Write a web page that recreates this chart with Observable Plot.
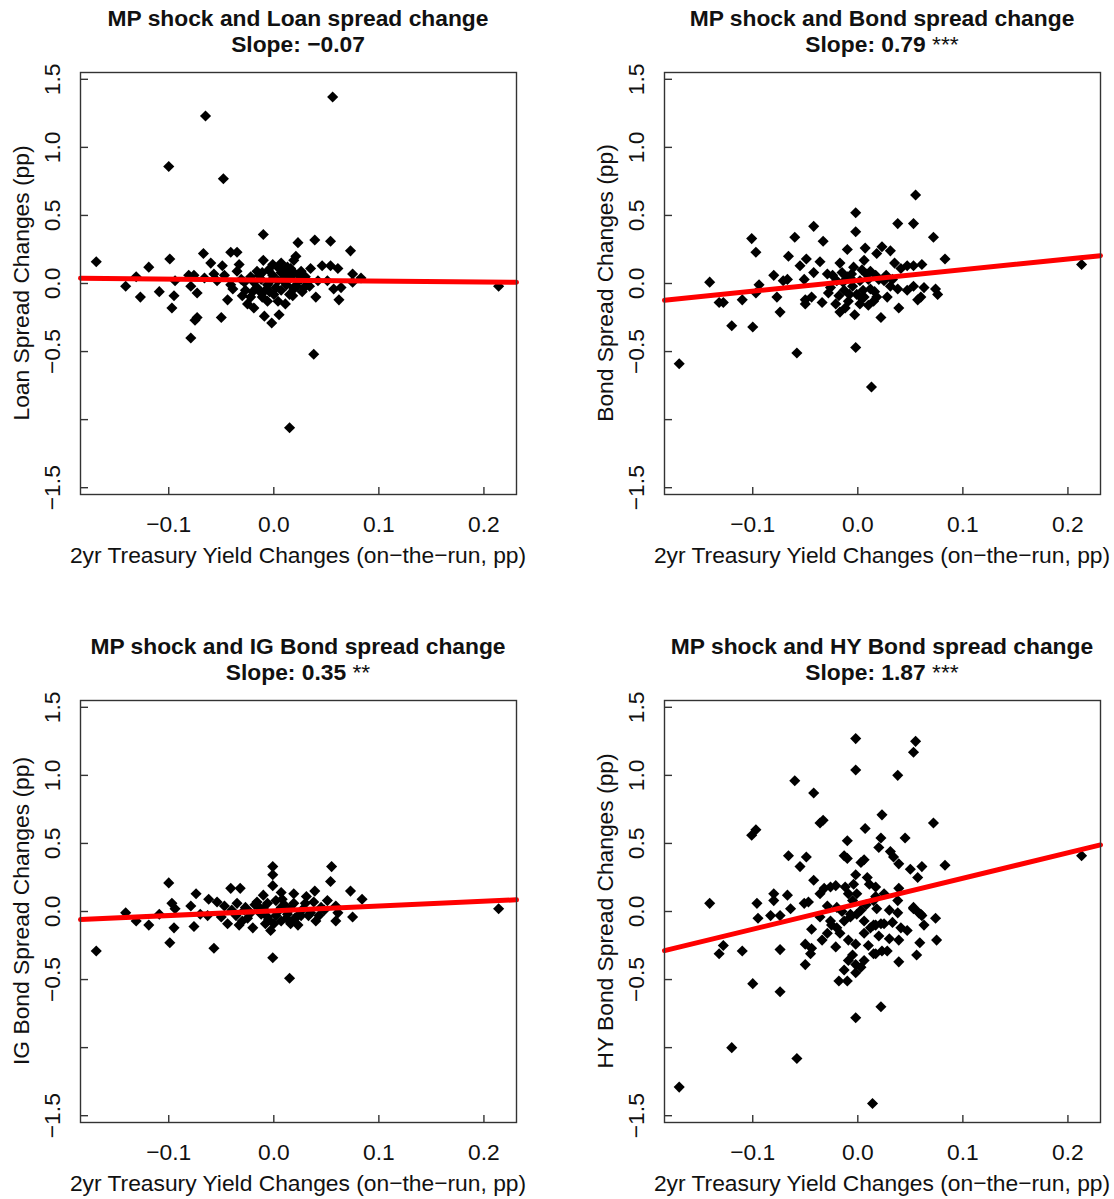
<!DOCTYPE html>
<html><head><meta charset="utf-8">
<script src="https://cdn.jsdelivr.net/npm/d3@7"></script>
<script src="https://cdn.jsdelivr.net/npm/@observablehq/plot@0.6"></script>
<style>
body{margin:0;background:#fff;}
#root{position:relative;width:1114px;height:1199px;overflow:hidden;font-family:"Liberation Sans",Arial,sans-serif;}
#root svg{position:absolute;}
</style></head><body><div id="root"></div>
<script>
// ---- axes / labels ----
const xTicks = [-0.1, 0, 0.1, 0.2];
const yTicks = [-1.5, -1, -0.5, 0, 0.5, 1, 1.5];
const yTickLabels = [-1.5, -0.5, 0, 0.5, 1, 1.5];
const xDomain = [-0.184, 0.231];
const yDomain = [-1.55, 1.55];
const titles = ["MP shock and Loan spread change", "MP shock and Bond spread change",
  "MP shock and IG Bond spread change", "MP shock and HY Bond spread change"];
const slopeText = ["\u22120.07", "0.79", "0.35", "1.87"];
const stars = ["", "***", "**", "***"];
const slopeValues = [-0.07, 0.79, 0.35, 1.87];
const intercepts = [0.025, 0.022, 0.005, 0.057];
const yLabels = ["Loan Spread Changes (pp)", "Bond Spread Changes (pp)",
  "IG Bond Spread Changes (pp)", "HY Bond Spread Changes (pp)"];
const xLabel = "2yr Treasury Yield Changes (on\u2212the\u2212run, pp)";

// ---- data ----
const loanX = [-0.169,-0.141,-0.131,-0.127,-0.119,-0.109,-0.099,-0.095,-0.094,-0.097,-0.081,-0.079,-0.076,-0.073,-0.073,-0.075,-0.079,-0.067,-0.060,-0.066,-0.049,-0.050,-0.044,-0.041,-0.035,-0.033,-0.035,-0.057,-0.054,-0.047,-0.041,-0.039,-0.031,-0.027,-0.025,-0.019,-0.022,-0.010,-0.010,-0.011,-0.016,-0.001,0.007,0.013,0.019,0.023,0.021,-0.009,-0.002,0.005,0.011,-0.006,0.000,0.007,0.015,0.019,-0.006,0.004,-0.016,-0.012,-0.019,0.011,0.016,-0.001,0.007,-0.008,0.019,-0.011,0.004,0.039,0.054,0.073,0.035,0.046,0.054,0.061,0.026,0.016,0.075,0.083,0.023,0.032,0.042,0.051,0.019,0.029,0.018,0.040,0.057,0.064,0.062,0.075,0.214,0.038,0.056,-0.065,-0.100,-0.048,0.015,-0.005,0.010,0.002,-0.014,0.012,0.024,0.027,0.008,-0.020,0.030,-0.003,-0.028,-0.022,-0.004,0.014,0.022,-0.012,0.005,0.026,-0.030,0.034];
const loanY = [0.16,-0.02,0.05,-0.10,0.12,-0.06,0.18,-0.09,0.02,-0.18,0.06,-0.02,0.06,-0.07,-0.25,-0.27,-0.40,0.22,0.15,0.04,0.13,-0.25,-0.12,0.23,0.23,0.14,0.09,0.07,0.02,0.06,-0.01,-0.04,0.03,-0.05,-0.15,-0.18,-0.10,0.36,0.17,0.08,0.09,0.14,0.15,0.12,0.17,0.30,0.20,-0.24,-0.29,-0.23,-0.15,-0.13,-0.08,-0.05,-0.08,-0.03,-0.01,0.02,-0.03,0.03,0.01,0.04,0.04,0.06,0.08,-0.05,0.08,-0.10,-0.13,0.32,0.31,0.24,0.11,0.13,0.13,0.11,0.09,0.11,0.07,0.04,0.02,0.01,0.02,0.02,-0.04,-0.03,-0.09,-0.10,-0.04,-0.03,-0.12,0.01,-0.02,-0.52,1.37,1.23,0.86,0.77,-1.06,0.10,0.09,-0.03,0.06,-0.01,0.06,-0.06,0.03,-0.06,0.05,0.02,0.01,0.05,-0.06,0.08,-0.02,-0.07,0.11,0.03,-0.09,-0.02];

const bondX = [-0.170,-0.141,-0.132,-0.128,-0.120,-0.110,-0.101,-0.097,-0.100,-0.094,-0.097,-0.080,-0.077,-0.074,-0.071,-0.067,-0.066,-0.060,-0.058,-0.055,-0.049,-0.051,-0.050,-0.050,-0.044,-0.042,-0.033,-0.036,-0.042,-0.034,-0.029,-0.026,-0.021,-0.017,-0.017,-0.010,-0.002,-0.002,-0.002,-0.003,0.007,0.006,-0.007,-0.013,-0.001,0.006,-0.009,0.012,0.015,0.022,0.018,0.023,-0.004,-0.020,0.055,0.038,0.053,0.072,0.083,0.031,0.035,0.041,0.047,0.053,0.061,0.017,0.025,0.031,0.038,0.047,0.053,0.063,0.074,0.076,0.057,0.060,0.039,0.028,0.018,0.213,0.013,-0.010,0.002,-0.005,0.010,-0.015,0.005,0.008,-0.008,0.012,-0.024,0.002,-0.012,0.020,-0.028,-0.018,0.004,0.016,0.027,-0.006,0.010,0.033,-0.014,0.004];
const bondY = [-0.59,0.01,-0.14,-0.14,-0.31,-0.12,0.33,0.23,-0.32,-0.01,-0.07,0.06,-0.10,-0.21,0.02,0.03,0.20,0.34,-0.51,0.13,0.18,0.03,-0.12,-0.15,-0.10,0.42,0.31,0.16,0.08,-0.14,0.07,-0.03,-0.15,-0.21,0.15,0.25,0.52,0.38,-0.47,-0.23,0.26,0.17,0.04,-0.05,-0.08,-0.10,-0.13,0.09,-0.13,-0.25,0.22,0.27,0.12,0.02,0.65,0.44,0.44,0.34,0.18,0.24,0.15,0.11,0.13,0.13,0.14,0.06,0.02,-0.02,-0.04,-0.05,-0.02,-0.03,-0.04,-0.08,-0.12,-0.10,-0.18,-0.10,-0.10,0.14,-0.76,0.05,0.02,-0.02,0.03,0.08,-0.05,0.07,-0.08,-0.04,0.06,-0.15,-0.18,0.03,-0.07,-0.09,0.10,-0.06,0.06,0.07,-0.16,0.03,0.01,-0.11];

const igX = [-0.169,-0.141,-0.131,-0.119,-0.109,-0.100,-0.099,-0.095,-0.097,-0.094,-0.079,-0.076,-0.074,-0.057,-0.062,-0.063,-0.054,-0.047,-0.044,-0.041,-0.032,-0.035,-0.033,-0.027,-0.020,-0.016,-0.010,-0.001,-0.001,-0.001,-0.001,0.015,0.007,0.019,-0.006,0.000,-0.003,0.007,0.013,-0.012,-0.022,-0.036,-0.050,-0.070,-0.006,0.007,0.019,0.023,0.016,0.055,0.054,0.073,0.084,0.039,0.031,0.051,0.038,0.059,0.035,0.048,0.061,0.026,0.040,0.059,0.075,0.023,0.214,-0.010,0.004,0.010,-0.015,0.028,-0.005,0.012,-0.025,0.045,0.002,0.030,-0.040,-0.028,-0.018,0.016,0.020,-0.008,0.033,0.008,-0.030,0.043,0.002];
const igY = [-0.29,-0.01,-0.07,-0.10,-0.02,0.21,-0.23,-0.12,0.06,0.02,0.04,-0.11,0.13,-0.27,0.09,-0.03,0.07,0.04,-0.09,0.17,0.17,0.06,-0.10,0.03,-0.12,0.07,0.12,0.33,0.27,0.19,-0.34,-0.49,0.14,0.13,-0.04,-0.09,-0.14,-0.07,-0.02,-0.02,-0.01,-0.03,-0.04,-0.02,0.06,0.03,0.06,-0.03,-0.09,0.33,0.22,0.15,0.09,0.15,0.11,0.08,0.07,0.04,-0.01,0.01,-0.01,-0.03,-0.07,-0.07,-0.04,-0.10,0.02,0.02,0.00,0.05,0.04,0.02,-0.06,-0.05,-0.05,0.03,0.08,0.06,0.01,0.01,0.05,0.02,-0.05,-0.09,-0.03,0.09,-0.07,-0.03,-0.03];

const hyX = [-0.002,-0.002,-0.060,-0.042,-0.033,-0.036,0.007,-0.101,-0.097,-0.010,0.023,0.020,-0.066,-0.049,-0.055,-0.013,-0.010,0.003,0.006,-0.042,-0.002,-0.004,0.009,0.011,-0.032,-0.026,-0.021,-0.036,-0.012,-0.009,-0.001,0.015,-0.141,-0.096,-0.080,-0.080,-0.067,-0.064,-0.051,-0.047,-0.029,-0.020,-0.095,-0.083,-0.074,-0.007,0.003,0.018,0.055,0.053,0.038,0.072,0.045,0.022,0.031,0.034,0.039,0.050,0.061,0.083,0.057,0.039,0.017,0.025,0.038,0.017,0.053,0.060,0.074,0.030,0.213,-0.128,-0.132,-0.110,-0.100,-0.074,-0.074,-0.120,-0.058,-0.170,0.014,-0.044,-0.050,-0.045,-0.050,-0.044,-0.034,-0.029,-0.026,-0.021,-0.020,-0.018,-0.010,-0.013,-0.009,-0.005,-0.002,-0.002,0.003,0.006,0.015,-0.002,0.022,-0.017,-0.009,-0.002,0.006,0.012,0.015,0.022,0.023,-0.013,-0.007,-0.001,0.006,-0.036,0.053,0.058,0.061,0.038,0.063,0.025,0.033,0.041,0.047,0.017,0.020,0.030,0.039,0.059,0.075,0.028,0.017,0.039,0.056,-0.015,0.008,-0.025,0.010,-0.005];
const hyY = [1.27,1.04,0.96,0.87,0.67,0.65,0.61,0.56,0.60,0.52,0.71,0.47,0.41,0.40,0.33,0.41,0.39,0.36,0.38,0.23,0.27,0.20,0.25,0.20,0.17,0.18,0.19,0.13,0.18,0.13,0.13,0.08,0.06,0.06,0.13,0.08,0.12,0.02,0.06,0.07,0.04,0.03,-0.05,-0.03,-0.03,-0.02,0.01,0.02,1.25,1.17,1.00,0.65,0.54,0.54,0.44,0.40,0.35,0.31,0.33,0.34,0.25,0.17,0.18,0.13,0.08,0.11,0.02,-0.02,-0.05,0.01,0.41,-0.25,-0.31,-0.29,-0.53,-0.28,-0.59,-1.00,-1.08,-1.29,-1.41,-0.13,-0.24,-0.31,-0.39,-0.27,-0.21,-0.16,-0.07,-0.26,-0.12,-0.51,-0.51,-0.43,-0.36,-0.32,-0.45,-0.39,-0.41,-0.36,-0.31,-0.78,-0.70,-0.16,-0.21,-0.24,-0.16,-0.12,-0.10,-0.09,-0.29,-0.07,-0.04,-0.02,-0.07,-0.04,0.03,-0.01,-0.03,-0.01,-0.10,-0.09,-0.08,-0.12,-0.14,-0.10,-0.18,-0.20,-0.21,-0.23,-0.21,-0.29,-0.31,-0.37,-0.32,0.00,0.05,-0.10,-0.25,0.08];

const panelXs = [loanX, bondX, igX, hyX];
const panelYs = [loanY, bondY, igY, hyY];
const panelLeft = [0, 584, 0, 584];
const panelTop = [0, 0, 628, 628];

const fmt = d3.format(".1f");
const FONT = "'Liberation Sans', Arial, Helvetica, sans-serif";
const root = document.getElementById("root");

function panel(i) {
  const W = 530, H = 571, mL = 80, mR = 14, mT = 72, mB = 77;
  const bw = W - mL - mR, bh = H - mT - mB;
  const pts = panelXs[i].map((x, k) => ({x, y: panelYs[i][k]}));
  const fit = xDomain.map(x => ({x, y: intercepts[i] + slopeValues[i] * x}));
  const svg = Plot.plot({
    width: W, height: H, marginLeft: mL, marginRight: mR, marginTop: mT, marginBottom: mB,
    x: {domain: xDomain}, y: {domain: yDomain},
    style: {fontFamily: FONT, fontSize: "22.8px", color: "#111", background: "transparent", overflow: "visible"},
    marks: [
      Plot.dot(pts, {x: "x", y: "y", symbol: "diamond2", r: 5, fill: "#000", stroke: null}),
      Plot.line(fit, {x: "x", y: "y", stroke: "#ff0000", strokeWidth: 5}),
      Plot.frame({stroke: "#333", strokeWidth: 1.4}),
      Plot.tickY(yTicks, {y: d => d, insetRight: bw - 8, stroke: "#333", strokeWidth: 1.4}),
      Plot.tickX(xTicks, {x: d => d, insetTop: bh - 7, stroke: "#333", strokeWidth: 1.4}),
      Plot.axisX({ticks: xTicks, tickSize: 0, tickPadding: 21, tickFormat: fmt, label: null}),
      Plot.axisY({ticks: yTickLabels, tickSize: 0, tickPadding: 21, tickRotate: -90, tickFormat: fmt, label: null})
    ]
  });
  svg.style.left = panelLeft[i] + "px";
  svg.style.top = panelTop[i] + "px";
  const s = d3.select(svg);
  const cx = mL + bw / 2;
  s.append("text").attr("x", cx).attr("y", 25.5).attr("text-anchor", "middle")
    .attr("font-weight", "bold").attr("fill", "#111").text(titles[i]);
  const t2 = s.append("text").attr("x", cx).attr("y", 51.5).attr("text-anchor", "middle").attr("fill", "#111");
  t2.append("tspan").attr("font-weight", "bold").text("Slope: " + slopeText[i]);
  if (stars[i]) t2.append("tspan").text(" " + stars[i]);
  s.append("text").attr("transform", `translate(29,${mT + bh / 2}) rotate(-90)`)
    .attr("text-anchor", "middle").attr("fill", "#111").text(yLabels[i]);
  s.append("text").attr("x", cx).attr("y", 563).attr("text-anchor", "middle")
    .attr("fill", "#111").text(xLabel);
  root.appendChild(svg);
}
[0, 1, 2, 3].forEach(panel);
</script>
</body></html>
